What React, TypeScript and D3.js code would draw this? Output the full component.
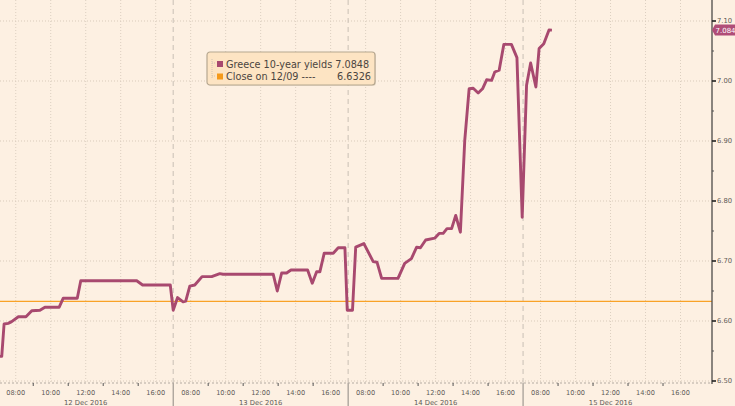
import * as d3 from "d3";
import React, { useEffect, useRef } from "react";

const days = ["12 Dec 2016", "13 Dec 2016", "14 Dec 2016", "15 Dec 2016"];
const hourTicks = ["08:00", "10:00", "12:00", "14:00", "16:00"];
const minorHourTicks = ["09:00", "11:00", "13:00", "15:00"];
const yTicks = [6.5, 6.6, 6.7, 6.8, 6.9, 7.0, 7.1];
const yMinorTicks = [6.55, 6.65, 6.75, 6.85, 6.95, 7.05];

const times12 = ["07:06", "07:12", "07:20", "07:34", "07:46", "08:09", "08:35", "08:55", "09:23", "09:40",
  "10:29", "10:43", "11:31", "11:43", "14:55", "15:15", "16:37", "16:50"];
const yields12 = [6.541, 6.541, 6.595, 6.596, 6.599, 6.607, 6.607, 6.617, 6.618, 6.623,
  6.623, 6.638, 6.638, 6.667, 6.667, 6.660, 6.660, 6.660];

const times13 = ["07:00", "07:15", "07:34", "07:43", "07:57", "08:14", "08:39", "09:12", "09:40", "09:51",
  "12:43", "12:57", "13:12", "13:29", "13:44", "14:41", "14:57", "15:12", "15:23", "15:38",
  "16:09", "16:26", "16:49", "16:57"];
const yields13 = [6.618, 6.639, 6.632, 6.633, 6.658, 6.660, 6.674, 6.674, 6.679, 6.678,
  6.678, 6.650, 6.680, 6.680, 6.685, 6.685, 6.663, 6.682, 6.682, 6.713,
  6.713, 6.722, 6.722, 6.618];

const times14 = ["07:15", "07:26", "07:54", "08:26", "08:39", "08:55", "09:51", "10:14", "10:37", "10:55",
  "11:08", "11:26", "11:57", "12:12", "12:26", "12:39", "12:55", "13:09", "13:25", "13:40",
  "13:55", "14:09", "14:26", "14:41", "14:55", "15:12", "15:23", "15:38", "15:54", "16:20",
  "16:39", "16:57"];
const yields14 = [6.618, 6.723, 6.729, 6.699, 6.698, 6.671, 6.671, 6.696, 6.704, 6.723,
  6.722, 6.735, 6.738, 6.746, 6.746, 6.754, 6.754, 6.776, 6.748, 6.901,
  6.987, 6.988, 6.980, 6.987, 7.002, 7.001, 7.015, 7.018, 7.061, 7.061,
  7.039, 6.773];

const times15 = ["07:12", "07:26", "07:44", "07:55", "08:11", "08:29", "08:39"];
const yields15 = [6.993, 7.030, 6.990, 7.054, 7.062, 7.085, 7.0848];

const seriesName = "Greece 10-year yields";
const lastYield = 7.0848;
const closeLabel = "Close on 12/09 ----";
const closeYield = 6.6326;

const dayTimes = [times12, times13, times14, times15];
const dayYields = [yields12, yields13, yields14, yields15];

// trading session 07:00-17:00, each day 10 hours wide on the axis
const sessionHours = (day: number, t: string) => {
  const [h, m] = t.split(":").map(Number);
  return day * 10 + h + m / 60 - 7;
};

export default function App() {
  const ref = useRef<SVGSVGElement>(null);

  useEffect(() => {
    const svg = d3.select(ref.current);
    svg.selectAll("*").remove();

    const width = 735, height = 406;
    const plotRight = 712, plotBottom = 383;
    const font = "'DejaVu Sans', Verdana, sans-serif";
    const lineColor = "#a8496f";
    const tickColor = "#5e5a56";

    const x = d3.scaleLinear().domain([0.1, 40.8]).range([0, plotRight]);
    const y = d3.scaleLinear().domain([6.5, 7.1]).range([381, 21]);

    const points: { h: number; v: number }[] = [];
    dayTimes.forEach((ts, i) => ts.forEach((t, j) => points.push({ h: sessionHours(i, t), v: dayYields[i][j] })));

    svg.append("rect").attr("width", width).attr("height", height).attr("fill", "#fdf0e2");

    // grid
    svg.append("g").selectAll("line").data(yTicks).join("line")
      .attr("x1", 0).attr("x2", plotRight)
      .attr("y1", d => y(d)).attr("y2", d => y(d))
      .attr("stroke", "#d9cbbb").attr("stroke-dasharray", "1,2");

    const gridHours = days.flatMap((_, i) => hourTicks.map(t => sessionHours(i, t)));
    svg.append("g").selectAll("line").data(gridHours).join("line")
      .attr("x1", d => x(d)).attr("x2", d => x(d))
      .attr("y1", 0).attr("y2", plotBottom)
      .attr("stroke", "#dccfc0").attr("stroke-dasharray", "1,2");

    const separators = [1, 2, 3].map(i => i * 10);
    svg.append("g").selectAll("line").data(separators).join("line")
      .attr("x1", d => x(d)).attr("x2", d => x(d))
      .attr("y1", 0).attr("y2", plotBottom)
      .attr("stroke", "#c9bfb5").attr("stroke-dasharray", "5,4");
    svg.append("g").selectAll("line").data(separators).join("line")
      .attr("x1", d => x(d)).attr("x2", d => x(d))
      .attr("y1", plotBottom).attr("y2", height)
      .attr("stroke", "#8d8782").attr("stroke-width", 1);

    // previous close
    svg.append("line")
      .attr("x1", 0).attr("x2", plotRight)
      .attr("y1", y(closeYield)).attr("y2", y(closeYield))
      .attr("stroke", "#f9a227").attr("stroke-width", 1.3);

    // yield line
    const line = d3.line<{ h: number; v: number }>().x(d => x(d.h)).y(d => y(d.v));
    svg.append("path").datum(points)
      .attr("d", line)
      .attr("fill", "none").attr("stroke", lineColor)
      .attr("stroke-width", 2.9).attr("stroke-linejoin", "round");

    // bottom axis
    svg.append("line")
      .attr("x1", 0).attr("x2", plotRight).attr("y1", plotBottom).attr("y2", plotBottom)
      .attr("stroke", "#b3aaa1").attr("stroke-dasharray", "2,2");
    const minorHours = days.flatMap((_, i) => minorHourTicks.map(t => sessionHours(i, t)));
    svg.append("g").selectAll("line").data(minorHours).join("line")
      .attr("x1", d => x(d)).attr("x2", d => x(d))
      .attr("y1", plotBottom).attr("y2", plotBottom + 3)
      .attr("stroke", "#555");

    const hourLabels = days.flatMap((_, i) => hourTicks.map(t => ({ t, h: sessionHours(i, t) })));
    svg.append("g").selectAll("text").data(hourLabels).join("text")
      .attr("x", d => x(d.h)).attr("y", 394.5)
      .attr("text-anchor", "middle")
      .style("font-family", font).style("font-size", "6.6px").attr("fill", tickColor)
      .text(d => d.t);

    svg.append("g").selectAll("text").data(days).join("text")
      .attr("x", (_, i) => x(sessionHours(i, "12:00"))).attr("y", 404.5)
      .attr("text-anchor", "middle")
      .style("font-family", font).style("font-size", "6.8px").attr("fill", tickColor)
      .text(d => d);

    // right axis
    svg.append("line")
      .attr("x1", plotRight).attr("x2", plotRight).attr("y1", 0).attr("y2", plotBottom + 1)
      .attr("stroke", "#4d4a47").attr("stroke-width", 1.3);
    svg.append("g").selectAll("line").data(yTicks).join("line")
      .attr("x1", plotRight).attr("x2", plotRight + 4)
      .attr("y1", d => y(d)).attr("y2", d => y(d))
      .attr("stroke", "#222").attr("stroke-width", 1.6);
    svg.append("g").selectAll("line").data(yMinorTicks).join("line")
      .attr("x1", plotRight).attr("x2", plotRight + 2)
      .attr("y1", d => y(d)).attr("y2", d => y(d))
      .attr("stroke", "#555");
    svg.append("g").selectAll("text").data(yTicks).join("text")
      .attr("x", plotRight + 5).attr("y", d => y(d) + 2.4)
      .style("font-family", font).style("font-size", "6.8px").attr("fill", tickColor)
      .text(d => d3.format(".2f")(d));

    // last value tag (value truncated to 3 decimals)
    const ly = y(lastYield);
    svg.append("path")
      .attr("d", `M${plotRight},${ly} L${plotRight + 3},${ly - 5.5} L${width},${ly - 5.5} L${width},${ly + 5.5} L${plotRight + 3},${ly + 5.5} Z`)
      .attr("fill", "#b04d78");
    svg.append("text")
      .attr("x", plotRight + 3.5).attr("y", ly + 2.5)
      .style("font-family", font).style("font-size", "7px").attr("fill", "#fff")
      .text((Math.floor(lastYield * 1000) / 1000).toFixed(3));

    // legend
    const lg = svg.append("g").attr("transform", "translate(207,52)");
    lg.append("rect")
      .attr("x", 1).attr("y", 1).attr("width", 168).attr("height", 33).attr("rx", 3)
      .attr("fill", "#d8c9b6").attr("opacity", 0.5);
    lg.append("rect")
      .attr("width", 168).attr("height", 33).attr("rx", 3)
      .attr("fill", "#fde4c3").attr("stroke", "#b6a790").attr("stroke-width", 1.2);
    lg.append("path")
      .attr("d", "M5,7 V26 M5,11 H9 M5,24 H9")
      .attr("stroke", "#cfc3b5").attr("stroke-dasharray", "1,1").attr("fill", "none");
    const rows = [
      { label: seriesName, value: d3.format(".4f")(lastYield), color: lineColor },
      { label: closeLabel, value: d3.format(".4f")(closeYield), color: "#f59a1b" }
    ];
    rows.forEach((r, i) => {
      const ry = 12.5 + i * 12.5;
      lg.append("rect").attr("x", 10).attr("y", ry - 3.5).attr("width", 6).attr("height", 6).attr("fill", r.color);
      lg.append("text").attr("x", 19).attr("y", ry + 3)
        .style("font-family", font).style("font-size", "9.7px").attr("fill", "#4b4540")
        .text(i === 0 ? `${r.label} ${r.value}` : r.label);
      if (i === 1) {
        lg.append("text").attr("x", 164).attr("y", ry + 3).attr("text-anchor", "end")
          .style("font-family", font).style("font-size", "9.7px").attr("fill", "#4b4540")
          .text(r.value);
      }
    });
  }, []);

  return (
    <svg ref={ref} width={735} height={406}
      style={{ position: "absolute", left: 0, top: 0, display: "block" }} />
  );
}
